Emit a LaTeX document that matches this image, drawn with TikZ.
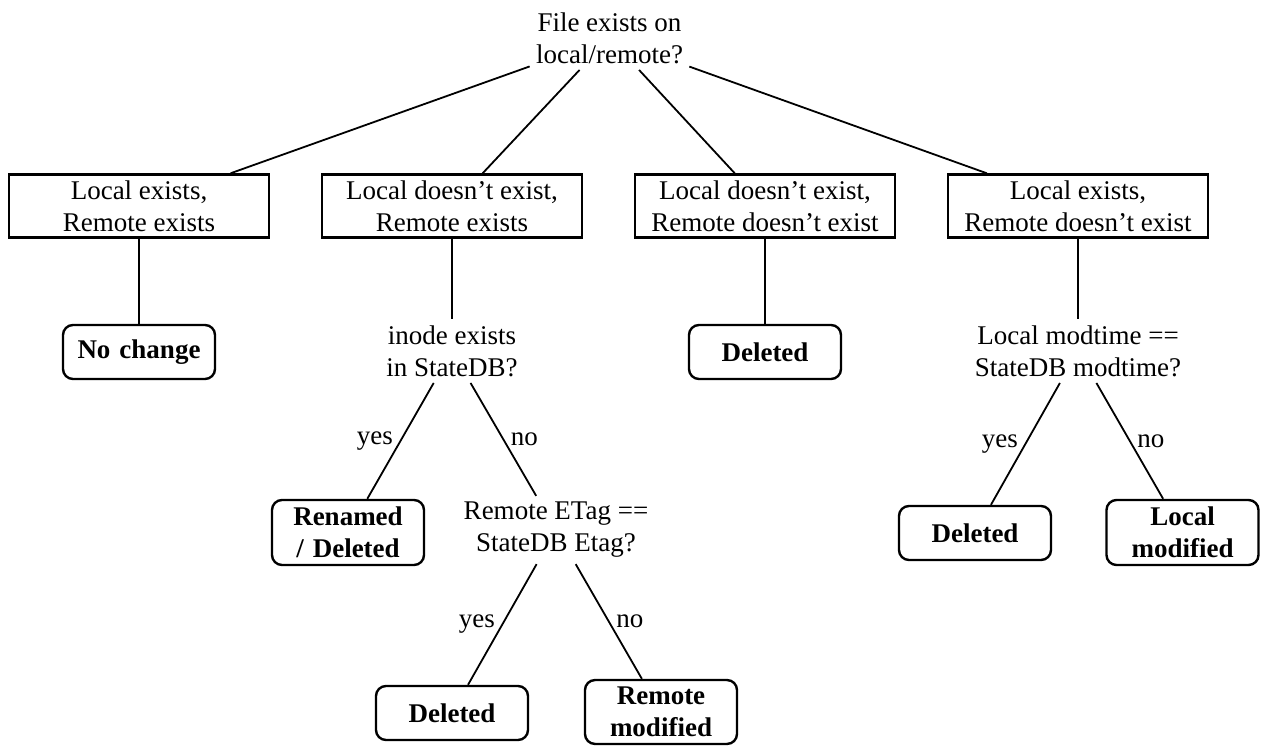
\documentclass[tikz,border=0pt]{standalone}
\usepackage{fontspec}
\setmainfont{Liberation Serif}
\begin{document}
\begin{tikzpicture}[x=0.5pt,y=-0.5pt,
    font=\fontsize{13.5}{16}\selectfont,
    question/.style={align=center, inner sep=3pt},
    casebox/.style={draw, line width=1.2pt, align=center, minimum width=130pt, inner sep=3pt},
    leaf/.style={draw, line width=1.2pt, rounded corners=5pt, align=center, text width=69pt, inner sep=3.5pt, minimum height=27pt, font=\fontsize{13.5}{16}\selectfont\bfseries},
    edge/.style={line width=0.9pt}]

    \useasboundingbox (0,0) rectangle (1263,747);

    % Root question
    \node[question] (root) at (609.5,38) {File exists on\\local/remote?};

    % Four cases
    \node[casebox] (ll) at (139,206) {Local exists,\\Remote exists};
    \node[casebox] (nl) at (452,206) {Local doesn't exist,\\Remote exists};
    \node[casebox] (nn) at (765,206) {Local doesn't exist,\\Remote doesn't exist};
    \node[casebox] (ln) at (1078,206) {Local exists,\\Remote doesn't exist};

    \foreach \c in {ll,nl,nn,ln}
        \draw[edge] (root) -- (\c);

    % Second level
    \node[leaf] (nochange) at (139,352) {No change};
    \node[question] (inode) at (452,351) {inode exists\\in StateDB?};
    \node[leaf] (deleted) at (765,352) {Deleted};
    \node[question] (modtime) at (1078,351) {Local modtime ==\\StateDB modtime?};

    \draw[edge] (ll) -- (nochange);
    \draw[edge] (nl) -- (inode);
    \draw[edge] (nn) -- (deleted);
    \draw[edge] (ln) -- (modtime);

    % Third level
    \node[leaf] (renamed) at (348,532.5) {Renamed\\/ Deleted};
    \node[question] (etag) at (556,530) {Remote ETag ==\\StateDB Etag?};
    \node[leaf] (moddel) at (975,533) {Deleted};
    \node[leaf] (localmod) at (1182.5,532.5) {Local\\modified};

    \draw[edge] (inode) -- node[midway,left] {yes} (renamed);
    \draw[edge] (inode) -- node[midway,right] {no} (etag);
    \draw[edge] (modtime) -- node[midway,left] {yes} (moddel);
    \draw[edge] (modtime) -- node[midway,right] {no} (localmod);

    % Fourth level
    \node[leaf] (etagdel) at (452,713) {Deleted};
    \node[leaf] (remotemod) at (661,712) {Remote\\modified};

    \draw[edge] (etag) -- node[midway,left] {yes} (etagdel);
    \draw[edge] (etag) -- node[midway,right] {no} (remotemod);
\end{tikzpicture}
\end{document}
